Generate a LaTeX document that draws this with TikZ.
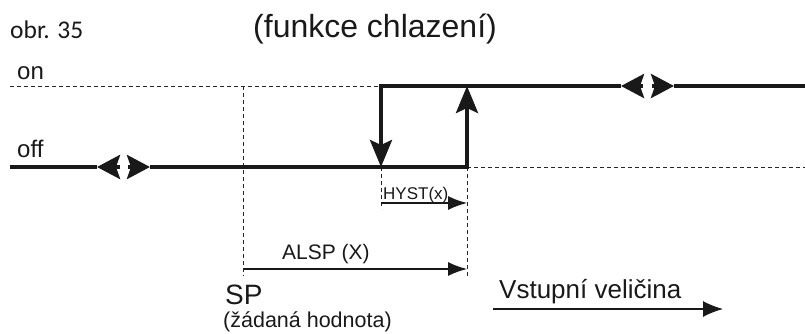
\documentclass[tikz,border=0pt]{standalone}
\usepackage{fontspec}
\setmainfont{Liberation Sans}
\newfontfamily\calibri{Carlito}
\usetikzlibrary{arrows.meta,positioning,calc}

\begin{document}
\begin{tikzpicture}[x=1pt,y=-1pt,
  lvl/.style={line width=4pt,draw=black!90},
  guide/.style={line width=.9pt,draw=black!85,dash pattern=on 4pt off 3pt},
  dim/.style={line width=1.3pt,draw=black!90,-{Latex[length=19pt,width=14pt]}},
  bigtip/.style={-{Stealth[length=27pt,width=22pt,inset=5pt]}},
  drift/.style={line width=4pt,black!90,-{Stealth[length=23pt,width=24pt,inset=4pt]}},
  txt/.style={inner sep=0pt,anchor=base west,text=black!90}]
\useasboundingbox (0,0) rectangle (805,334);
% levels and switching points
\coordinate (onL) at (10,86);
\coordinate (onR) at (805,86);
\coordinate (offL) at (10,167);
\coordinate (offR) at (805,167);
\coordinate (spT) at (243,86);
\coordinate (spB) at (243,276);
\coordinate (dnT) at (381,86);
\coordinate (dnB) at (381,167);
\coordinate (upT) at (467,86);
\coordinate (upB) at (467,167);
% texts
\node[txt,font=\calibri\fontsize{25.5}{28}\selectfont] (fig) at (10,39) {obr. 35};
\node[txt,font=\fontsize{32}{36}\selectfont] (title) at (253,38) {(funkce chlazení)};
\node[txt,font=\fontsize{24}{26}\selectfont] (on) at (17,80) {on};
\node[txt,font=\fontsize{24}{26}\selectfont] (off) at (17,157) {off};
\node[txt,font=\fontsize{17}{18}\selectfont] (hyst) at (383,199) {HYST(x)};
\node[txt,font=\fontsize{21}{24}\selectfont] (alsp) at (282,259) {ALSP (X)};
\node[txt,font=\fontsize{28}{30}\selectfont] (sp) at (225,304) {SP};
\node[txt,font=\fontsize{21.5}{23}\selectfont] (spnote) at (223,327) {(žádaná hodnota)};
\node[txt,font=\fontsize{26}{28}\selectfont] (input) at (499,298) {Vstupní veličina};
% guide lines
\draw[guide] (onL) -- (dnT);
\draw[guide] (spT) -- (spB);
\draw[guide] (dnB) -- ++(0,42);
\draw[guide] (upB) -- ++(0,110);
\draw[guide] (upB) -- (offR);
% off level with drift mark
\draw[lvl] (offL) -- (97,167);
\draw[drift] (120,167) -- (97,167);
\draw[drift] (128,167) -- (150,167);
\draw[lvl,bigtip] (150,167) -- (upB) -- (upT);
% on level with drift mark
\draw[lvl] (onR) -- (674,86);
\draw[drift] (652,86) -- (674,86);
\draw[drift] (643,86) -- (621,86);
\draw[lvl,bigtip] (621,86) -- (dnT) -- (dnB);
% dimensions
\draw[dim] (381,203) -- (467,203);
\draw[dim] (243,269) -- (467,269);
\draw[dim,-{Latex[length=20pt,width=16pt]}] (493,309) -- (723,309);
\end{tikzpicture}
\end{document}
